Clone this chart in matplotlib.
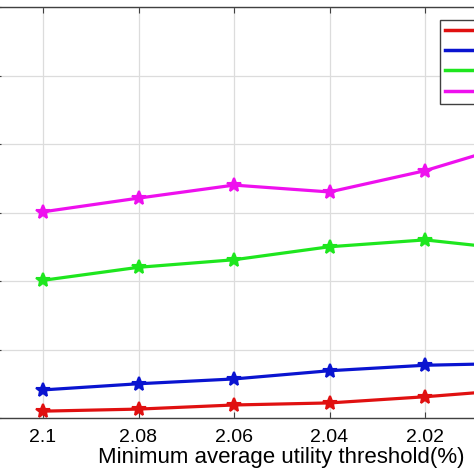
import numpy as np
import matplotlib
matplotlib.use("Agg")
import matplotlib.pyplot as plt

plt.rcParams['font.family'] = ['Liberation Sans', 'DejaVu Sans']

# ---- data (y in grid units) ----
thresholds = [2.10, 2.08, 2.06, 2.04, 2.02, 2.00]
series_red = [0.10, 0.13, 0.19, 0.22, 0.31, 0.42]
series_blue = [0.41, 0.50, 0.57, 0.69, 0.77, 0.80]
series_green = [2.01, 2.20, 2.31, 2.50, 2.60, 2.45]
series_magenta = [3.01, 3.21, 3.40, 3.30, 3.61, 4.03]
# only the ticks that fall inside the cropped picture
x_ticks = [2.10, 2.08, 2.06, 2.04, 2.02]
x_tick_labels = ['2.1', '2.08', '2.06', '2.04', '2.02']
y_ticks = [0, 1, 2, 3, 4, 5, 6]

fig = plt.figure(figsize=(4.74, 4.74), dpi=100)
# the reference is a crop of a bigger figure, so the axes run past the edges
ax = fig.add_axes([-4.75 / 474, 56 / 474, 573 / 474, 411 / 474])

colors = ['#e01010', '#0a14d0', '#1ee61e', '#ee10ee']
all_series = [series_red, series_blue, series_green, series_magenta]
handles = []
for s, c in zip(all_series, colors):
    h, = ax.plot(thresholds, s, color=c, lw=2.3, marker='*', ms=10,
                 mec=c, mfc=c, mew=1.5)
    handles.append(h)

ax.set_xlim(2.11, 1.99)
ax.set_ylim(0, 6)
ax.set_xticks(x_ticks)
ax.set_xticklabels(x_tick_labels)
ax.set_yticks(y_ticks)
ax.tick_params(axis='both', direction='in', top=True, right=True,
               labelsize=14, length=4, color='#404040', labelleft=False)
ax.tick_params(axis='x', pad=8)
ax.grid(True, color='#dcdcdc', lw=0.9)
for sp in ax.spines.values():
    sp.set_color('#404040')
    sp.set_linewidth(1.0)

ax.set_xlabel('Minimum average utility threshold(%)', fontsize=16, labelpad=1)

leg = fig.legend(handles, [' ', ' ', ' ', ' '], loc='upper left',
                 bbox_to_anchor=(440 / 474, 1 - 20 / 474), fontsize=11,
                 handlelength=4, labelspacing=0.4, borderpad=0.3,
                 borderaxespad=0, fancybox=False, framealpha=1,
                 edgecolor='#404040')
leg.get_frame().set_linewidth(1.0)
for line in leg.get_lines():
    line.set_marker('')
    line.set_linewidth(2.5)

fig.savefig('out.png', dpi=100)
